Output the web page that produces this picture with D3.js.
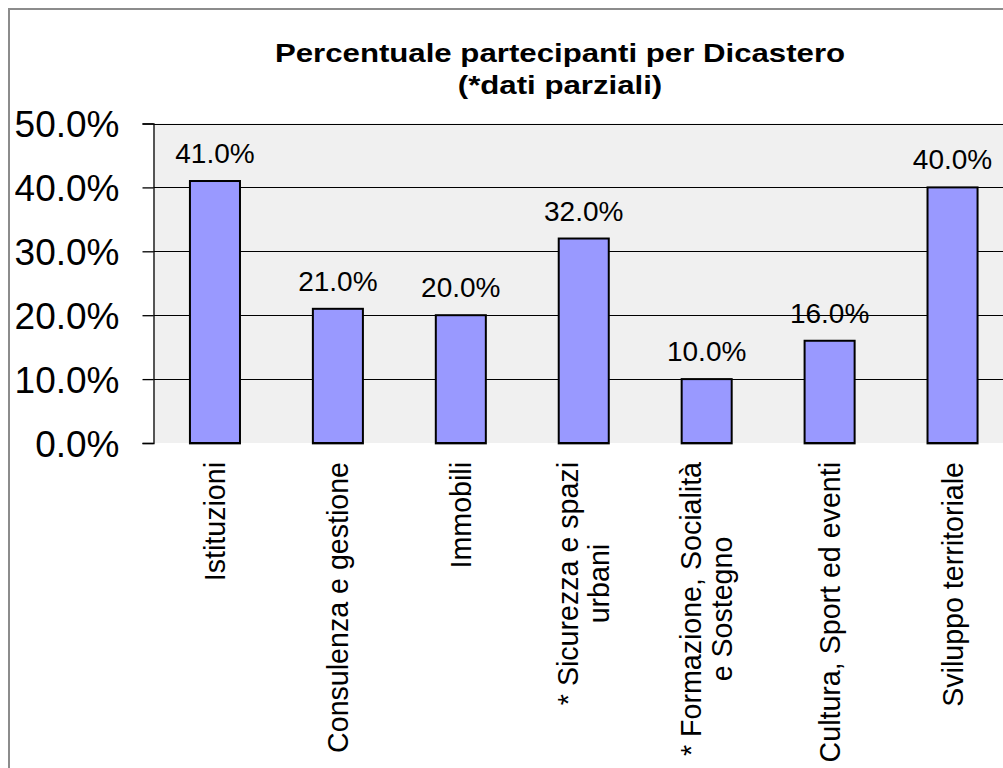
<!DOCTYPE html>
<html>
<head>
<meta charset="utf-8">
<script src="https://cdn.jsdelivr.net/npm/d3@7"></script>
<style>
  html, body { margin: 0; padding: 0; background: #fff; overflow: hidden; }
  svg { display: block; }
  text { font-family: "Liberation Sans", Arial, sans-serif; fill: #000; }
</style>
</head>
<body>
<script>
// ---- data ----
const categories = [
  "Istituzioni",
  "Consulenza e gestione",
  "Immobili",
  "* Sicurezza e spazi urbani",
  "* Formazione, Socialità e Sostegno",
  "Cultura, Sport ed eventi",
  "Sviluppo territoriale"
];
const categoryLines = [
  ["Istituzioni"],
  ["Consulenza e gestione"],
  ["Immobili"],
  ["* Sicurezza e spazi", "urbani"],
  ["* Formazione, Socialità", "e Sostegno"],
  ["Cultura, Sport ed eventi"],
  ["Sviluppo territoriale"]
];
const values = [0.41, 0.21, 0.20, 0.32, 0.10, 0.16, 0.40];
const yTicks = [0, 0.1, 0.2, 0.3, 0.4, 0.5];
const titleLines = ["Percentuale partecipanti per Dicastero", "(*dati parziali)"];

// ---- layout ----
const W = 1003, H = 768;
const plotLeft = 153.5, plotRight = 1014, plotTop = 123.5, plotBottom = 443;

const svg = d3.select("body").append("svg").attr("width", W).attr("height", H);

// outer chart border (chart extends beyond the visible frame)
svg.append("rect")
  .attr("x", 9).attr("y", 9)
  .attr("width", 1200).attr("height", 900)
  .attr("fill", "#fff").attr("stroke", "#8c8c8c").attr("stroke-width", 2);

const x = d3.scaleBand().domain(categories).range([plotLeft, plotRight])
  .paddingInner(0.593).paddingOuter(0.2965);
const y = d3.scaleLinear().domain([0, 0.5]).range([plotBottom, plotTop]);

// plot area
svg.append("rect")
  .attr("x", plotLeft).attr("y", plotTop)
  .attr("width", plotRight - plotLeft).attr("height", plotBottom - plotTop)
  .attr("fill", "#f0f0f0");

// gridlines
svg.append("g").selectAll("line").data(yTicks.filter(d => d > 0)).join("line")
  .attr("x1", plotLeft).attr("x2", plotRight)
  .attr("y1", d => Math.round(y(d)) + 0.5).attr("y2", d => Math.round(y(d)) + 0.5)
  .attr("stroke", "#000").attr("stroke-width", 1);

// y axis
const fmt = d3.format(".1%");
const yAxis = d3.axisLeft(y).tickValues(yTicks).tickFormat(fmt).tickSize(11).tickPadding(23);
const gy = svg.append("g").attr("transform", `translate(${plotLeft},0)`).call(yAxis);
gy.select(".domain").attr("stroke", "#000").attr("stroke-width", 1.3);
gy.selectAll(".tick line").attr("stroke", "#000").attr("stroke-width", 1.3);
gy.selectAll(".tick text")
  .style("font-family", '"Liberation Sans", Arial, sans-serif')
  .style("font-size", "37px").attr("fill", "#000").attr("dy", "0.36em");

// bars
svg.append("g").selectAll("rect").data(values).join("rect")
  .attr("x", (d, i) => x(categories[i]))
  .attr("y", d => y(d))
  .attr("width", x.bandwidth())
  .attr("height", d => plotBottom - y(d))
  .attr("fill", "#9999ff")
  .attr("stroke", "#000").attr("stroke-width", 2);

// bottom light line under bars
svg.append("g").selectAll("line").data(values).join("line")
  .attr("x1", (d, i) => x(categories[i]) - 1)
  .attr("x2", (d, i) => x(categories[i]) + x.bandwidth() + 1)
  .attr("y1", plotBottom + 1.5).attr("y2", plotBottom + 1.5)
  .attr("stroke", "#a0a0a0").attr("stroke-width", 1);

// data labels
svg.append("g").selectAll("text").data(values).join("text")
  .attr("x", (d, i) => x(categories[i]) + x.bandwidth() / 2)
  .attr("y", d => y(d) - 18)
  .attr("text-anchor", "middle")
  .style("font-size", "28px")
  .text(d => fmt(d));

// category labels (rotated)
const catG = svg.append("g").selectAll("g").data(categories).join("g")
  .attr("transform", d => `translate(${x(d) + x.bandwidth() / 2},462) rotate(-90)`);
catG.each(function (d, i) {
  const g = d3.select(this);
  const lines = categoryLines[i];
  const texts = lines.map((ln, j) => g.append("text")
    .style("font-size", "28.6px")
    .attr("text-anchor", "middle")
    .attr("y", (j - (lines.length - 1) / 2) * 31 + 10)
    .text(ln));
  const maxW = d3.max(texts, t => t.node().getComputedTextLength());
  texts.forEach(t => t.attr("x", -maxW / 2));
});

// title (horizontally stretched like the original rendering)
svg.append("g").attr("transform", "translate(560,0) scale(1.2,1)")
  .selectAll("text").data(titleLines).join("text")
  .attr("x", 0)
  .attr("y", (d, i) => 62 + i * 32)
  .attr("text-anchor", "middle")
  .style("font-size", "26px").style("font-weight", "bold")
  .text(d => d);
</script>
</body>
</html>
